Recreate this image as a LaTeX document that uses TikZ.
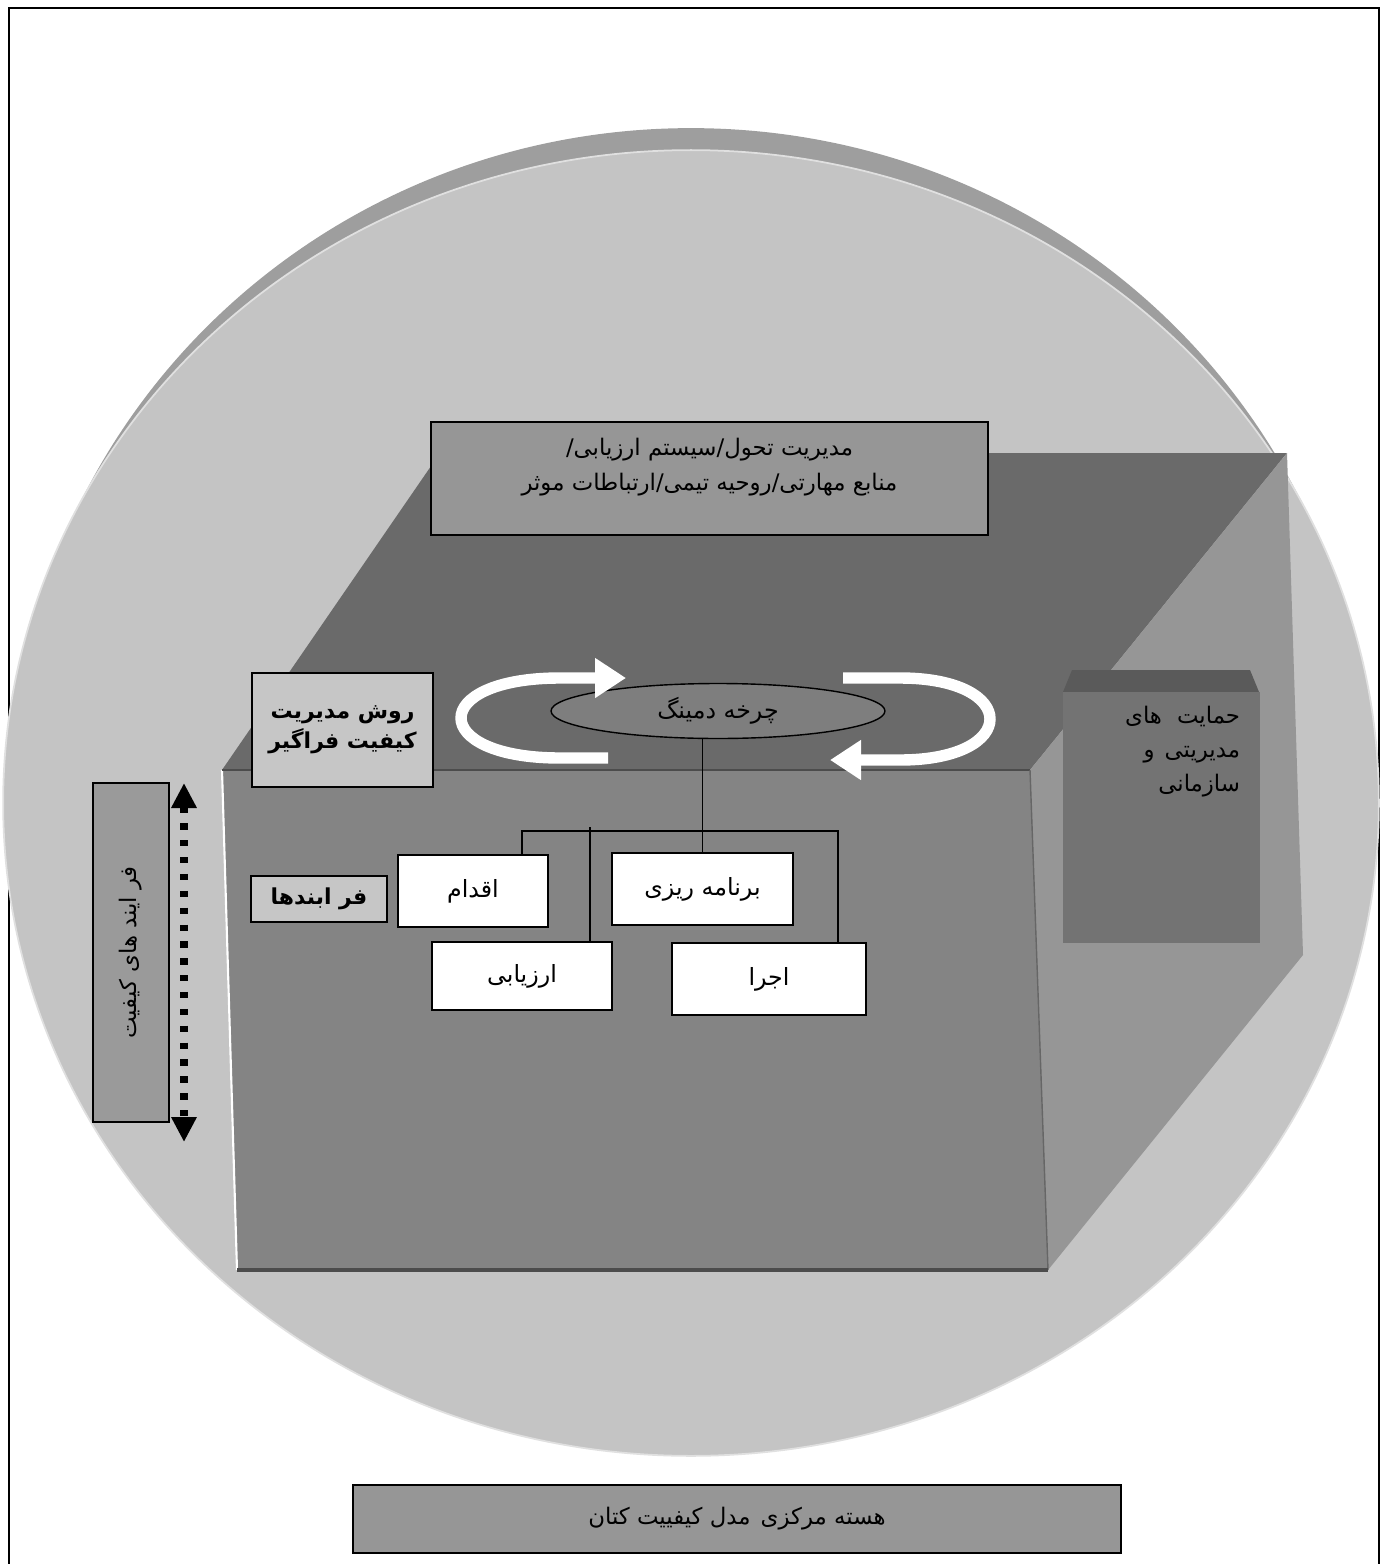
\documentclass[tikz,border=0pt]{standalone}
\usepackage{fontspec}
\newfontfamily\arabicfont[Script=Arabic]{DejaVu Sans}
\TeXXeTstate=1
\usetikzlibrary{arrows.meta, shapes.geometric}
\usepackage{xcolor}
\definecolor{xcircle}{HTML}{C4C4C4}
\definecolor{xshade}{HTML}{9E9E9E}
\definecolor{xtop}{HTML}{6A6A6A}
\definecolor{xside}{HTML}{969696}
\definecolor{xfront}{HTML}{848484}
\definecolor{xbox}{HTML}{969696}
\definecolor{xlight}{HTML}{C6C6C6}
\definecolor{xdeming}{HTML}{7E7E7E}
\definecolor{xquality}{HTML}{9A9A9A}
\definecolor{xsupport}{HTML}{737373}
\definecolor{xcap}{HTML}{5A5A5A}
\newcommand{\fa}[1]{\beginR #1\endR}
\tikzset{
	box/.style={draw=black, line width=1.1pt, inner sep=0pt, align=center,
		font=\arabicfont\fontsize{13}{19.5}\selectfont},
	boldbox/.style={box, fill=xlight, font=\arabicfont\bfseries\fontsize{12.5}{17}\selectfont},
	stagebox/.style={box, fill=white, font=\arabicfont\fontsize{13.5}{19.5}\selectfont},
	link/.style={black, line width=0.9pt},
	cyclearrow/.style={white, line width=6.5pt, -{Triangle[length=0.62cm, width=0.76cm]}},
	dotarrow/.style={black, line width=4pt, dash pattern=on 3.6pt off 6pt,
		{Triangle[length=0.5cm, width=0.48cm]}-{Triangle[length=0.5cm, width=0.48cm]}},
}

\begin{document}
\begin{tikzpicture}[x=0.02cm, y=-0.02cm]
	\useasboundingbox (0,0) rectangle (1389,1564);

	% frame and background circle
	\draw[line width=1.2pt] (9,1580) -- (9,8) -- (1379,8) -- (1379,1580);
	\fill[xshade] (691,790) ellipse (13.56cm and 13.24cm);
	\fill[xcircle, draw=black!12, line width=1pt] (691,803) ellipse (13.76cm and 13.06cm);

	% the block
	\fill[xtop] (222,770) -- (440,453) -- (1287,453) -- (1030,770) -- cycle;
	\fill[xside] (1030,770) -- (1287,453) -- (1303,955) -- (1048,1270) -- cycle;
	\fill[xfront] (222,770) -- (1030,770) -- (1048,1270) -- (237,1270) -- cycle;
	\draw[white, line width=1.2pt] (222,770) -- (237,1270);
	\draw[black!70, line width=0.6pt] (222,770) -- (1030,770);
	\draw[black!60, line width=0.8pt] (1030,770) -- (1048,1270);
	\draw[black!70, line width=1.8pt] (237,1270) -- (1048,1270);

	\node[box, fill=xbox, minimum width=11.14cm, minimum height=2.26cm] (change) at (709.5,478.5) {};
	\node[align=center, inner sep=0pt, font=\arabicfont\fontsize{13}{19.5}\selectfont] (changetext) at (709.5,467)
		{\fa{مدیریت تحول/سیستم ارزیابی/}\\\fa{منابع مهارتی/روحیه تیمی/ارتباطات موثر}};

	\node[boldbox, minimum width=3.62cm, minimum height=2.28cm] (tqm) at (342.5,730)
		{\fa{روش مدیریت}\\\fa{کیفیت فراگیر}};

	\node[ellipse, draw=black, line width=0.8pt, fill=xdeming, minimum width=6.68cm, minimum height=1.1cm, inner sep=0pt,
		font=\arabicfont\fontsize{13.5}{19}\selectfont] (deming) at (718,711) {\fa{چرخه دمینگ}};

	% cycle arrows
	\coordinate (cycLs) at (608,758);
	\coordinate (cycLe) at (626,678);
	\coordinate (cycRs) at (843,678);
	\coordinate (cycRe) at (830,760);
	\draw[cyclearrow] (cycLs) -- (560,758) .. controls (428,758) and (428,678) .. (560,678) -- (cycLe);
	\draw[cyclearrow] (cycRs) -- (900,678) .. controls (1020,678) and (1020,760) .. (900,760) -- (cycRe);

	% stages
	\node[stagebox, minimum width=3.0cm, minimum height=1.44cm] (eqdam) at (473,891) {\fa{اقدام}};
	\node[stagebox, minimum width=3.62cm, minimum height=1.44cm] (barname) at (702.5,889) {\fa{برنامه ریزی}};
	\node[stagebox, minimum width=3.6cm, minimum height=1.36cm] (arzyabi) at (522,976) {\fa{ارزیابی}};
	\node[stagebox, minimum width=3.88cm, minimum height=1.44cm] (ejra) at (769,979) {\fa{اجرا}};

	\coordinate (busL) at (522,831);
	\coordinate (busR) at (838,831);
	\coordinate (busA) at (590,827);
	\draw[link] (deming.south -| barname.north) -- (barname.north);
	\draw[link] (eqdam.north -| busL) -- (busL) -- (busR) -- (ejra.north -| busR);
	\draw[link] (busA) -- (arzyabi.north -| busA);

	\node[boldbox, minimum width=2.72cm, minimum height=0.92cm] (processes) at (319,899) {\fa{فر ابندها}};

	% quality processes
	\node[box, fill=xquality, minimum width=1.52cm, minimum height=6.78cm] (quality) at (131,952.5) {};
	\node[rotate=90, font=\arabicfont\fontsize{13}{19}\selectfont] (qualitytext) at (quality.center) {\fa{فر ایند های کیفیت}};
	\coordinate (qtop) at (184,783);
	\coordinate (qbot) at (184,1142);
	\draw[dotarrow] (qtop) -- (qbot);

	% support
	\fill[xcap] (1063,692) -- (1072,670) -- (1250,670) -- (1259,692) -- cycle;
	\node[fill=xsupport, draw=black!55, line width=0.5pt, minimum width=3.92cm, minimum height=5cm, inner sep=0pt] (support) at (1161,817) {};
	\node[anchor=north east, align=right, inner sep=0pt, font=\arabicfont\fontsize{13}{19.5}\selectfont] (supporttext)
		at ([xshift=-0.38cm, yshift=-0.28cm]support.north east)
		{\fa{حمایت\hspace{0.3cm}های}\\\fa{مدیریتی\hspace{0.2cm}و}\\\fa{سازمانی}};

	% core
	\node[box, fill=xbox, minimum width=15.36cm, minimum height=1.36cm] (core) at (737,1519) {\fa{هسته مرکزی\hspace{0.2cm}مدل کیفییت کتان}};
\end{tikzpicture}
\end{document}
